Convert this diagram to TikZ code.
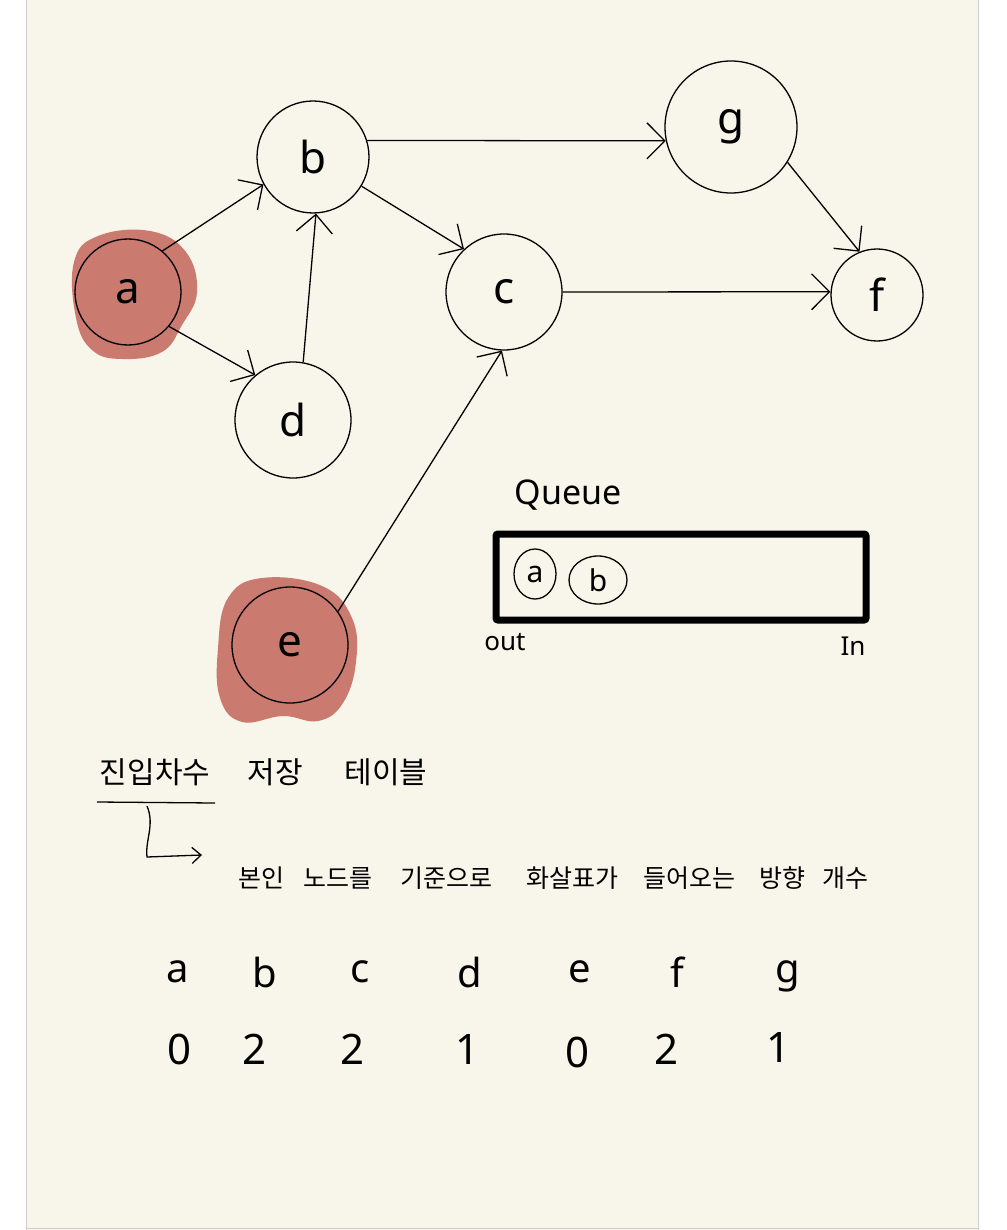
\documentclass[tikz,border=0pt]{standalone}
\usepackage{fontspec}
\setmainfont{Noto Sans}
\newfontfamily\kr{Noto Sans CJK KR}
\usetikzlibrary{arrows.meta,shapes.geometric}
\definecolor{paper}{RGB}{248,246,235}
\definecolor{blob}{RGB}{203,122,112}
\definecolor{edgegray}{RGB}{205,205,205}
\begin{document}
\begin{tikzpicture}[x=1pt,y=-1pt,
  vtx/.style={circle,draw=black,line width=1.3pt,inner sep=0pt,font=\fontsize{44}{44}\selectfont},
  arr/.style={line width=1.3pt,-{Straight Barb[length=18pt,width=36pt,line width=1.3pt]}},
  kt/.style={font=\kr\fontsize{30}{30}\selectfont,inner sep=0pt},
  kt2/.style={font=\kr\fontsize{25}{25}\selectfont,inner sep=0pt},
  lt/.style={font=\fontsize{40}{40}\selectfont,inner sep=0pt},
  nt/.style={font=\fontsize{42}{42}\selectfont,inner sep=0pt}]
\useasboundingbox (0,0) rectangle (1006,1230);
\fill[white] (0,0) rectangle (1006,1230);
\fill[paper] (26,0) rectangle (978,1230);
\draw[edgegray,line width=1pt] (26,0) -- (26,1230) (978,0) -- (978,1230) (26,1228) -- (978,1228);
% red blobs
\fill[blob] plot[smooth cycle,tension=0.7] coordinates {(74,262) (98,236) (150,231) (186,252) (197,292) (182,325) (162,352) (122,359) (92,350) (76,318)};
\fill[blob] plot[smooth cycle,tension=0.7] coordinates {(228,598) (262,578) (322,586) (352,618) (356,662) (343,703) (318,721) (283,716) (242,722) (220,698) (218,648)};
% vertices
\node[vtx,minimum size=106pt] (a) at (128,292) {a};
\node[vtx,minimum size=112pt] (b) at (313,157) {b};
\node[vtx,minimum size=116pt] (c) at (504,292) {c};
\node[vtx,minimum size=116pt] (d) at (293,420) {d};
\node[vtx,minimum size=116pt] (e) at (290,645) {e};
\node[vtx,minimum size=132pt] (g) at (731,127) {g};
\node[vtx,minimum size=92pt] (f) at (877,295) {f};
% edges
\draw[arr] (a.50) -- (b.209);
\draw[arr] (a.-40) -- (d.130);
\draw[arr] (d.80) -- (b.-87);
\draw[arr] (b.-31) -- (c.133);
\draw[arr] (b.17) -- (g.192);
\draw[arr] (g.-32) -- (f.112);
\draw[arr] (c.east) -- (f.176);
\draw[arr] (e.35) -- (c.-92);
% queue
\node[font=\fontsize{34}{34}\selectfont,inner sep=0pt] (ql) at (568,495) {Queue};
\node[draw=black,line width=7pt,rounded corners=2pt,minimum width=370pt,minimum height=86pt,inner sep=0pt] (q) at (681,577) {};
\node[ellipse,draw=black,line width=1.3pt,minimum width=42pt,minimum height=50pt,inner sep=0pt,font=\fontsize{30}{30}\selectfont] (qa) at (535,574) {a};
\node[ellipse,draw=black,line width=1.3pt,minimum width=58pt,minimum height=48pt,inner sep=0pt,font=\fontsize{30}{30}\selectfont] (qb) at (598,580) {b};
\node[font=\fontsize{26}{26}\selectfont,inner sep=0pt] (qo) at (505,642) {out};
\node[font=\fontsize{26}{26}\selectfont,inner sep=0pt] (qi) at (853,646) {In};
% in-degree table heading
\node[kt] (h1) at (155,772) {진입차수};
\node[kt] (h2) at (275,772) {저장};
\node[kt] (h3) at (386,772) {테이블};
\coordinate (ul1) at (97,802);
\coordinate (ul2) at (215,803);
\draw[line width=1.3pt] (ul1) -- (ul2);
\coordinate (bend1) at (147,806);
\coordinate (bend2) at (147,857);
\coordinate (tip) at (202,855);
\draw[line width=1.3pt,-{Straight Barb[length=9pt,width=16pt,line width=1.3pt]}] (bend1) .. controls (155,825) and (145,840) .. (bend2) -- (tip);
\node[kt2] (w1) at (261,878) {본인};
\node[kt2] (w2) at (338,878) {노드를};
\node[kt2] (w3) at (446,878) {기준으로};
\node[kt2] (w4) at (572,878) {화살표가};
\node[kt2] (w5) at (689,878) {들어오는};
\node[kt2] (w6) at (782,878) {방향};
\node[kt2] (w7) at (845,878) {개수};
% table
\node[lt] (ta) at (178,972) {a};
\node[lt] (tb) at (265,972) {b};
\node[lt] (tc) at (360,972) {c};
\node[lt] (td) at (470,972) {d};
\node[lt] (te) at (580,972) {e};
\node[lt] (tf) at (677,972) {f};
\node[lt] (tg) at (788,976) {g};
\node[nt] (n1) at (180,1049) {0};
\node[nt] (n2) at (255,1049) {2};
\node[nt] (n3) at (353,1049) {2};
\node[nt] (n4) at (468,1049) {1};
\node[nt] (n5) at (578,1052) {0};
\node[nt] (n6) at (667,1049) {2};
\node[nt] (n7) at (778,1047) {1};
\end{tikzpicture}
\end{document}
